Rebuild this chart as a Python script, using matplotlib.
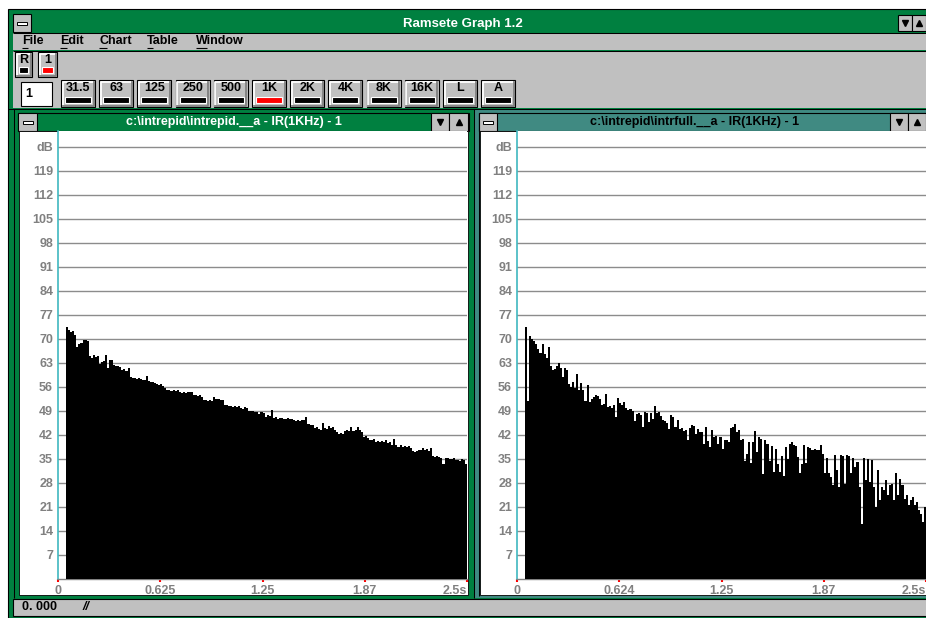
import matplotlib.pyplot as plt
from matplotlib.patches import Rectangle
import numpy as np

plt.rcParams['font.family'] = ['Liberation Sans', 'DejaVu Sans']
plt.rcParams['font.weight'] = 'bold'
plt.rcParams['font.size'] = 9

W, H = 926, 618
GREEN = '#008040'
TEAL = '#408a82'
FACE = '#c0c0c0'
SHADOW = '#808080'
LABEL_GRAY = '#808080'

# decay data: one bar per 12.5 ms slice, first slice starts at 50 ms
bar_start = 0.05
bar_step = 0.0125

left_db = [
    73.5, 72.5, 72, 72.3, 71.3, 67.8, 68.5, 68.8, 69.6, 69.8,
    69.3, 65, 64.6, 65.2, 64.8, 65, 62.8, 63.4, 63.6, 65.2,
    61.5, 64, 63.8, 62.5, 62, 62.2, 61.8, 61, 61.3, 60.8,
    61.5, 59, 58.6, 58.5, 58.4, 58.6, 58.2, 58, 57.9, 59.2,
    57.8, 57.5, 57.6, 57.2, 56.8, 56.7, 56.9, 56.3, 55.8, 55.2,
    55, 54.8, 55.2, 54.9, 55, 54.5, 54.3, 54.6, 54.2, 54.6,
    54.4, 54.5, 53.7, 53.6, 53.4, 53.8, 53.2, 52.2, 52.1, 52,
    52.3, 51.9, 53.2, 52.6, 52.4, 52.3, 52.1, 50.7, 50.8, 50.6,
    50.4, 50.2, 50.5, 50.3, 50.4, 50, 49.7, 50.2, 49.8, 49,
    48.9, 49.1, 48.6, 48.8, 48.2, 48.6, 48.3, 47.3, 47.8, 47.5,
    49.2, 47, 47.2, 46.8, 47.1, 46.9, 46.8, 46.7, 47, 46.6,
    46.8, 46.3, 46.2, 46.5, 46.1, 46.4, 46.3, 47.2, 45.2, 45,
    44.8, 44, 44.2, 43.8, 43.5, 45.6, 44, 43.8, 44.5, 43.9,
    44.3, 43.6, 42.8, 42.4, 42.6, 42.3, 43.2, 43.5, 43.3, 44.2,
    43.1, 43.6, 44.3, 43.4, 42.8, 41.5, 41.8, 41, 40.6, 40.5,
    40.8, 40.1, 40.3, 40, 40.2, 39.9, 40.4, 39.6, 40, 39.1,
    40.9, 39, 38.5, 39.2, 38.6, 38.8, 38.4, 38.7, 38.3, 37.2,
    37, 37.3, 37.7, 37.5, 38.2, 37.6, 38, 37.4, 38.3, 35.8,
    35.6, 36, 35.7, 35.3, 33.6, 35.4, 35.2, 35, 34.9, 35.3,
    34.7, 34.8, 34.5, 35, 34.6, 33.5,
]

right_db = [
    73.5, 52, 70.8, 70, 69.5, 68.5, 67, 66, 68.6, 65.5,
    64.5, 67.8, 62, 61, 61.3, 62, 63, 61.5, 59, 61.5,
    61, 57, 56, 57.5, 55.6, 59.8, 55.2, 57.2, 55, 52,
    56.5, 51.6, 52.5, 53.2, 53.8, 53.4, 52.5, 50.7, 51, 53.9,
    50.2, 50.5, 49.8, 50.8, 47.2, 52.9, 51.2, 50.8, 51.5, 49.9,
    49.3, 49.5, 48.9, 46.2, 48.2, 48.5, 47.8, 44.3, 48.7, 48.3,
    45.8, 48.5, 46.8, 50.4, 48.3, 48.8, 47.5, 46.3, 46.1, 45.5,
    43.8, 47.8, 47.2, 44.3, 46.5, 43.8, 44, 43.2, 43.5, 40.4,
    43.9, 44.8, 44.5, 42.3, 43.8, 42.9, 43, 39.4, 44.3, 40.2,
    38.4, 43.4, 41.4, 41.6, 39.4, 41.4, 38, 40.4, 40.6, 39.9,
    43.9, 44.2, 45.1, 42.9, 43.4, 40.4, 40.7, 34.5, 36.5, 39.9,
    33.9, 40, 43.2, 37, 41.4, 40.9, 30.6, 40.4, 39.4, 34.5,
    38.9, 31.1, 38, 33.6, 31.1, 36, 30.1, 38.4, 35, 39.4,
    39.9, 39.1, 38.8, 35.6, 30.8, 33.5, 39.1, 33.8, 38.6, 38.2,
    37.6, 37.8, 37.5, 37.7, 39.1, 36.6, 30.8, 35.2, 31, 29.8,
    27.3, 36.1, 31.7, 26.9, 36.3, 36, 27.8, 36.3, 36, 31,
    35.2, 32.7, 34.2, 26.9, 15.9, 35.4, 28.8, 34.9, 28.3, 34.7,
    26.9, 21, 31.9, 23, 26.9, 25.9, 28.8, 24.4, 27.3, 27.8,
    23, 30.8, 24.4, 29.3, 27.3, 23.4, 24.4, 21.5, 23, 23.9,
    21.5, 22.5, 20, 19, 16.6, 21,
]

ytick_vals = [7, 14, 21, 28, 35, 42, 49, 56, 63, 70, 77, 84, 91, 98, 105, 112, 119, 126]
ytick_labels = ['7', '14', '21', '28', '35', '42', '49', '56', '63', '70', '77',
                '84', '91', '98', '105', '112', '119', 'dB']
left_xticks = [0, 0.625, 1.25, 1.875, 2.5]
left_xlabels = ['0', '0.625', '1.25', '1.87', '2.5s']
right_xticks = [0, 0.624, 1.25, 1.875, 2.5]
right_xlabels = ['0', '0.624', '1.25', '1.87', '2.5s']

menu_items = ['File', 'Edit', 'Chart', 'Table', 'Window']
band_labels = ['31.5', '63', '125', '250', '500', '1K', '2K', '4K', '8K', '16K', 'L', 'A']
selected_band = '1K'

left_title = 'c:\\intrepid\\intrepid.__a - IR(1KHz) - 1'
right_title = 'c:\\intrepid\\intrfull.__a - IR(1KHz) - 1'
app_title = 'Ramsete Graph 1.2'


fig = plt.figure(figsize=(W / 100, H / 100), dpi=100)
fig.patch.set_facecolor('white')
bg = fig.add_axes([0, 0, 1, 1])
bg.set_xlim(0, W)
bg.set_ylim(H, 0)
bg.axis('off')


def box(x0, y0, x1, y1, fc, ec='none', lw=0):
    bg.add_patch(Rectangle((x0, y0), x1 - x0, y1 - y0, facecolor=fc,
                           edgecolor=ec, linewidth=lw))


def hline(y, x0, x1, color='black', lw=0.75):
    bg.plot([x0, x1], [y, y], color=color, lw=lw, solid_capstyle='butt')


def vline(x, y0, y1, color='black', lw=0.75):
    bg.plot([x, x], [y0, y1], color=color, lw=lw, solid_capstyle='butt')


def button(x0, y0, w, h, label, bar):
    box(x0, y0, x0 + w, y0 + h, FACE, 'black', 0.8)
    bg.plot([x0 + 1.5, x0 + 1.5, x0 + w - 1.5], [y0 + h - 1.5, y0 + 1.5, y0 + 1.5],
            color='white', lw=1.3)
    bg.plot([x0 + 1.5, x0 + w - 1.5, x0 + w - 1.5], [y0 + h - 1.5, y0 + h - 1.5, y0 + 1.5],
            color=SHADOW, lw=1.3)
    bg.text(x0 + w / 2, y0 + 8, label, ha='center', va='center', fontsize=9)
    box(x0 + 4, y0 + h - 10, x0 + w - 4, y0 + h - 4.5, bar, 'white', 0.8)


def sys_box(x0, y0, x1, y1):
    box(x0, y0, x1, y1, FACE, 'black', 0.8)
    cx, cy = (x0 + x1) / 2, (y0 + y1) / 2
    box(cx - 5, cy - 1.5, cx + 5, cy + 1.5, 'white', 'black', 0.7)


def arrow_btn(x0, y0, x1, y1, mark):
    box(x0, y0, x1, y1, FACE, 'black', 0.8)
    bg.plot((x0 + x1) / 2, (y0 + y1) / 2, marker=mark, ms=4.5, color='black')


# main window frame and title bar
box(8, 9, W + 2, 618, GREEN, 'black', 0.8)
box(13, 14, W + 2, 32, GREEN)
hline(32.5, 13, W)
sys_box(13, 14, 31, 32)
bg.text(463, 23.5, app_title, color='white', ha='center', va='center', fontsize=9.5)
arrow_btn(898, 15, 912, 31, 'v')
arrow_btn(912, 15, 926, 31, '^')

# menu bar
box(13, 33, W + 2, 50, FACE)
hline(50.5, 13, W)
menu_x = [22, 60, 99, 147, 196]
underline_w = [6, 7, 8, 6, 11]
for x, name, uw in zip(menu_x, menu_items, underline_w):
    bg.text(x, 41.5, name, ha='left', va='center', fontsize=9)
    hline(47.5, x, x + uw, lw=0.8)

# toolbar
box(13, 51, W + 2, 108, FACE)
button(15, 52, 17, 25, 'R', 'black')
button(38, 52, 19, 25, '1', 'red')
box(21, 82, 52, 106, 'white', 'black', 0.8)
bg.text(25, 94, '1', ha='left', va='center', fontsize=9)
for i, lab in enumerate(band_labels):
    bar = 'red' if lab == selected_band else 'black'
    button(61 + 38.2 * i, 80, 34, 27, lab, bar)
hline(108.5, 8, W)

# child windows
box(13, 109, 474, 598, GREEN)
box(474, 109, W + 2, 598, TEAL)
vline(13.5, 109, 598)
vline(473.5, 109, 598)
vline(478.5, 113, 596)

box(18, 113, 469, 131, GREEN, 'black', 0.8)
sys_box(18, 113, 37, 131)
bg.text(234, 122, left_title, color='white', ha='center', va='center', fontsize=9)
arrow_btn(431, 113, 449, 131, 'v')
arrow_btn(449, 113, 468, 131, '^')
box(19, 131, 468, 595, 'white', 'black', 0.6)

box(479, 113, W + 2, 131, TEAL, 'black', 0.8)
sys_box(479, 113, 497, 131)
bg.text(695, 122, right_title, color='black', ha='center', va='center', fontsize=9)
arrow_btn(890, 113, 908, 131, 'v')
arrow_btn(908, 113, 926, 131, '^')
box(480, 131, W + 2, 595, 'white', 'black', 0.6)

# status bar
box(13, 599, W + 2, 616, FACE, 'black', 0.8)
bg.text(22, 607.5, '0. 000', ha='left', va='center', fontsize=9)
bg.text(82, 607.5, '//', ha='left', va='center', fontsize=9, style='italic')


def draw_chart(x_left, values, xticks, xlabels):
    ax = fig.add_axes([x_left / W, 39 / H, 409 / W, 448 / H])
    edges = bar_start + bar_step * np.arange(len(values) + 1)
    ax.stairs(values, edges, fill=True, color='black', lw=0, zorder=3)
    ax.set_xlim(0, 2.5)
    ax.set_ylim(0, 448 / 3.4286)
    ax.set_yticks(ytick_vals, ytick_labels)
    ax.set_xticks(xticks, xlabels)
    ax.yaxis.grid(True, color='#8c8c8c', lw=1.0)
    ax.set_axisbelow(True)
    ax.tick_params(axis='y', length=0, pad=3.5, labelcolor=LABEL_GRAY, labelsize=9)
    ax.tick_params(axis='x', length=2.5, width=1.5, color='red', pad=1.5,
                   labelcolor=LABEL_GRAY, labelsize=9)
    ax.get_xticklabels()[-1].set_ha('right')
    for s in ['top', 'right']:
        ax.spines[s].set_visible(False)
    ax.spines['left'].set_color('#40b8c0')
    ax.spines['left'].set_linewidth(1.2)
    ax.spines['bottom'].set_color('#808080')
    ax.spines['bottom'].set_linewidth(1.0)
    return ax


draw_chart(58, left_db, left_xticks, left_xlabels)
draw_chart(517, right_db, right_xticks, right_xlabels)

fig.savefig('out.png', dpi=100)
